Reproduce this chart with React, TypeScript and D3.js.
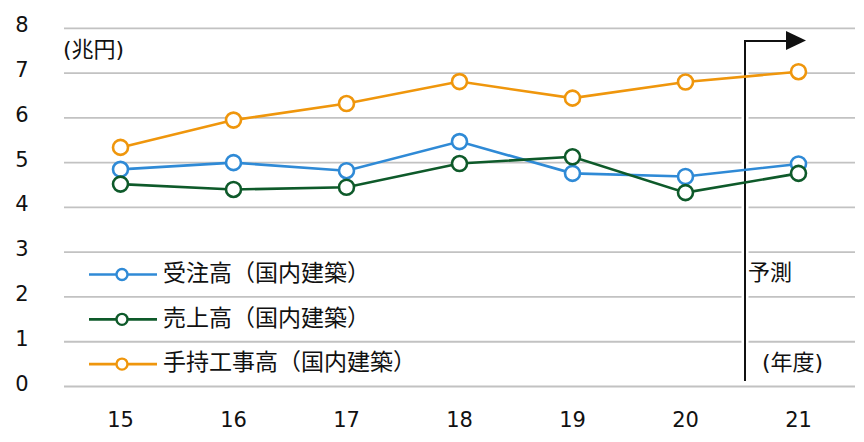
import * as d3 from 'd3';

const years = ['15', '16', '17', '18', '19', '20', '21'];
const yTicks = [0, 1, 2, 3, 4, 5, 6, 7, 8];

const ordersValues = [4.85, 5.0, 4.82, 5.47, 4.76, 4.69, 4.97];
const salesValues = [4.52, 4.4, 4.45, 4.98, 5.13, 4.33, 4.76];
const backlogValues = [5.34, 5.95, 6.32, 6.81, 6.44, 6.8, 7.03];

const seriesNames = ['受注高（国内建築）', '売上高（国内建築）', '手持工事高（国内建築）'];
const seriesColors = ['#2f8ad6', '#0e5a2a', '#ef960c'];

const width = 864;
const height = 442;
const num = 'DejaVu Sans, Verdana, sans-serif';
const jp = 'DejaVu Sans, Noto Sans CJK JP, sans-serif';

export default function App() {
    const x = d3.scaleBand<string>().domain(years).range([64, 855]);
    const y = d3.scaleLinear().domain([0, 8]).range([386.5, 28.3]);
    const cx = (d: string) => (x(d) as number) + x.bandwidth() / 2;

    const series = [ordersValues, salesValues, backlogValues];
    const line = d3.line<number>()
        .x((_, i) => cx(years[i]))
        .y(d => y(d));

    // forecast boundary sits between 20 and 21
    const fx = (cx('20') + cx('21')) / 2 + 3;

    return (
        <svg width={width} height={height} style={{ position: 'absolute', left: 0, top: 0, background: '#fff' }}>
            {/* grid */}
            {yTicks.map(t => (
                <g key={t}>
                    <line x1={64} x2={855} y1={y(t)} y2={y(t)} stroke="#c2c2c2" strokeWidth={1.8} />
                    <text x={22} y={y(t) - 2} textAnchor="middle" dominantBaseline="middle"
                        fontFamily={num} fontSize={21} fill="#111">{t}</text>
                </g>
            ))}
            {years.map(d => (
                <text key={d} x={cx(d)} y={421} textAnchor="middle" dominantBaseline="middle"
                    fontFamily={num} fontSize={21} fill="#111">{d}</text>
            ))}

            <text x={63} y={51} dominantBaseline="middle" fontFamily={jp} fontSize={22} fill="#111">(兆円)</text>

            {/* forecast marker */}
            <line x1={fx} x2={fx} y1={43} y2={381} stroke="#fff" strokeWidth={7} />
            <line x1={fx} x2={fx} y1={42} y2={381} stroke="#111" strokeWidth={2} />
            <line x1={fx - 1} x2={788} y1={41} y2={41} stroke="#111" strokeWidth={2} />
            <path d={`M786,31 L806,40.5 L786,50 Z`} fill="#111" />
            <text x={748} y={274} dominantBaseline="middle" fontFamily={jp} fontSize={22} fill="#111">予測</text>
            <text x={762} y={364} dominantBaseline="middle" fontFamily={jp} fontSize={22} fill="#111">(年度)</text>

            {/* series */}
            {series.map((vals, si) => (
                <g key={si}>
                    <path d={line(vals) as string} fill="none" stroke={seriesColors[si]} strokeWidth={2.6} />
                    {vals.map((v, i) => (
                        <circle key={i} cx={cx(years[i])} cy={y(v)} r={7.5} fill="#fff"
                            stroke={seriesColors[si]} strokeWidth={2.6} />
                    ))}
                </g>
            ))}

            {/* legend */}
            {seriesNames.map((name, i) => {
                const ly = (y(3 - i) + y(2 - i)) / 2;
                return (
                    <g key={name}>
                        <line x1={89} x2={157} y1={ly} y2={ly} stroke={seriesColors[i]} strokeWidth={2.6} />
                        <circle cx={122} cy={ly} r={5.5} fill="#fff" stroke={seriesColors[i]} strokeWidth={2.4} />
                        <text x={163} y={ly} dominantBaseline="middle" fontFamily="Noto Sans CJK JP, sans-serif"
                            fontSize={23} fill="#111">{name}</text>
                    </g>
                );
            })}
        </svg>
    );
}
